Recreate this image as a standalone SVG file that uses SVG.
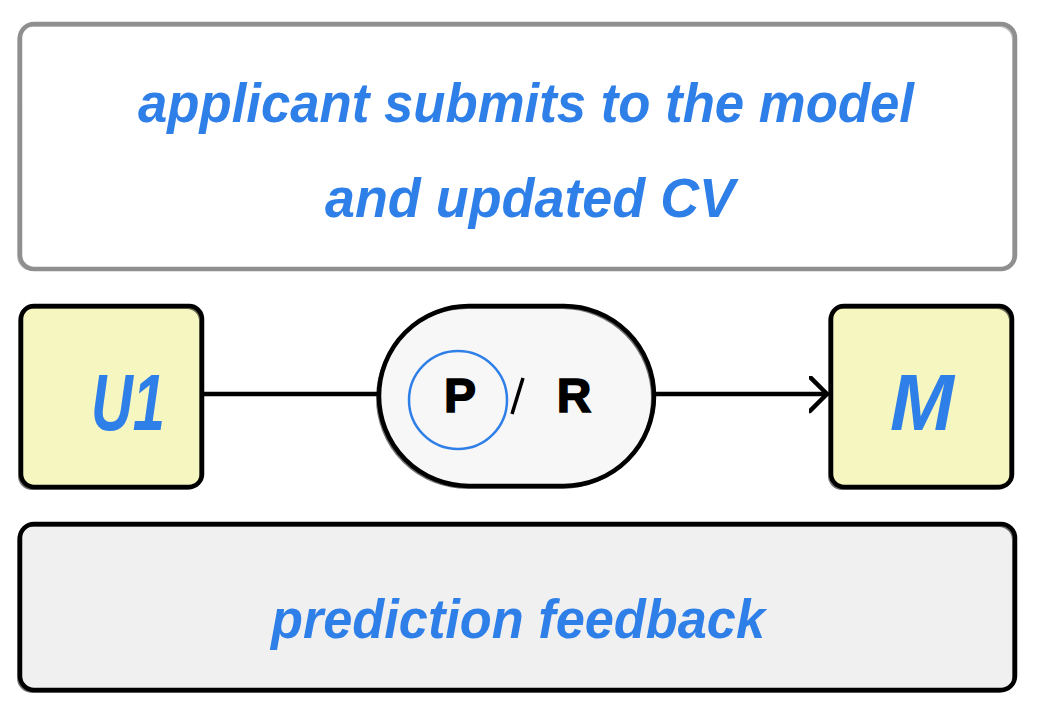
<svg xmlns="http://www.w3.org/2000/svg" width="1038" height="720" viewBox="0 0 1038 720">
<style>
.hand{font-family:"Liberation Sans","DejaVu Sans",sans-serif;font-style:italic;font-weight:bold;fill:#2f7fe8;text-anchor:middle}
.node{stroke:#000;stroke-width:4.5}
.sk{fill:none;stroke-width:2;opacity:.55}
.pr{font-family:"Liberation Sans",Arial,sans-serif;font-weight:bold;font-size:48px;fill:#000;stroke:#000;stroke-width:1.5;text-anchor:middle}
.conn{stroke:#000;stroke-width:4.5;fill:none;stroke-linecap:round}
</style>
<defs>
<marker id="arr" markerWidth="30" markerHeight="40" refX="18" refY="18" orient="auto" markerUnits="userSpaceOnUse" viewBox="0 0 30 40">
<path d="M1,1 L18,18 L1,35" fill="none" stroke="#000" stroke-width="4.5" stroke-linecap="round" stroke-linejoin="round"/>
</marker>
</defs>
<rect width="1038" height="720" fill="#fff"/>
<g id="connectors">
<line class="conn" x1="203" y1="394" x2="378" y2="394"/>
<line class="conn" x1="655" y1="394" x2="827" y2="394" marker-end="url(#arr)"/>
</g>
<g id="top">
<rect x="20" y="24" width="995" height="245" rx="14" fill="#fff" stroke="#8f8f8f" stroke-width="4.5"/>
<rect x="18" y="26" width="995" height="244" rx="14" class="sk" stroke="#8f8f8f"/>
<text class="hand" x="526" y="122" font-size="56" textLength="776" lengthAdjust="spacingAndGlyphs">applicant submits to the model</text>
<text class="hand" x="530" y="217" font-size="56" textLength="410" lengthAdjust="spacingAndGlyphs">and updated CV</text>
</g>
<g id="U1">
<rect x="21" y="306" width="181" height="181" rx="13" fill="#f6f6c0" class="node"/>
<rect x="19" y="308" width="181" height="181" rx="13" class="sk" stroke="#000"/>
<text class="hand" x="128" y="430" font-size="80" textLength="74" lengthAdjust="spacingAndGlyphs">U1</text>
</g>
<g id="PR">
<rect x="379" y="306" width="275" height="180" rx="90" fill="#f7f7f7" class="node"/>
<rect x="377" y="308" width="275" height="180" rx="90" class="sk" stroke="#000"/>
<circle cx="458" cy="400" r="49" fill="none" stroke="#2f7fe8" stroke-width="2.5"/>
<text class="pr" x="460" y="412">P</text>
<line x1="523" y1="378" x2="512" y2="414" stroke="#000" stroke-width="3.5"/>
<text class="pr" x="574" y="412">R</text>
</g>
<g id="M">
<rect x="831" y="306" width="181" height="181" rx="13" fill="#f6f6c0" class="node"/>
<rect x="829" y="308" width="181" height="181" rx="13" class="sk" stroke="#000"/>
<text class="hand" x="922" y="430" font-size="80" textLength="64" lengthAdjust="spacingAndGlyphs">M</text>
</g>
<g id="bottom">
<rect x="20" y="524" width="995" height="166" rx="14" fill="#f0f0f0" class="node"/>
<rect x="18" y="526" width="995" height="166" rx="14" class="sk" stroke="#000"/>
<text class="hand" x="518" y="638" font-size="56" textLength="494" lengthAdjust="spacingAndGlyphs">prediction feedback</text>
</g>
</svg>
